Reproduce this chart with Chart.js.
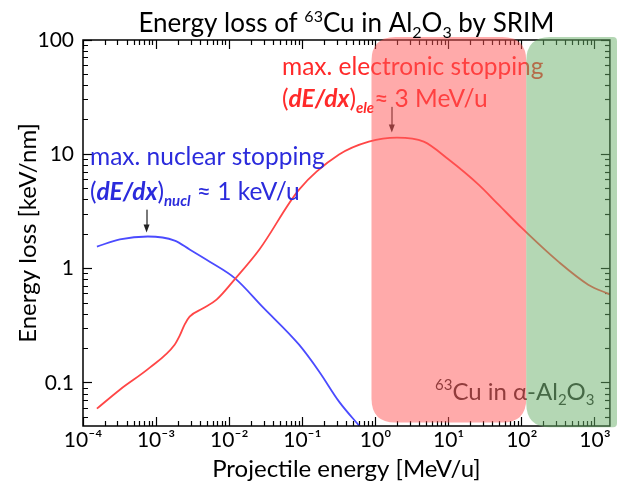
<!DOCTYPE html>
<html>
<head>
<meta charset="utf-8">
<script src="https://cdn.jsdelivr.net/npm/chart.js@4.4.1/dist/chart.umd.min.js"></script>
<style>
  html, body { margin: 0; padding: 0; background: #fff; }
</style>
</head>
<body>
<canvas id="chart" width="622" height="489"></canvas>
<script>
const FONT = 'Lato, "Open Sans", sans-serif';

// Electronic stopping (red), energy in MeV/u, loss in keV/nm
const elecEnergy = [1.55e-4, 3.19e-4, 8.18e-4, 1.79e-3, 2.10e-3, 2.45e-3, 2.87e-3, 4.32e-3, 6.70e-3, 0.0121, 0.0258, 0.090, 0.317, 0.81, 1.96, 4.56, 10, 25.6, 48, 98.9, 316, 808, 1610];
const elecLoss = [0.0596, 0.0873, 0.136, 0.216, 0.259, 0.324, 0.38, 0.447, 0.535, 0.818, 1.47, 4.91, 9.94, 12.9, 14.0, 12.9, 9.0, 5.43, 3.63, 2.28, 1.15, 0.724, 0.593];

// Nuclear stopping (blue)
const nuclEnergy = [1.55e-4, 3.19e-4, 7.7e-4, 1.79e-3, 2.87e-3, 5.4e-3, 0.0121, 0.0283, 0.090, 0.169, 0.317, 0.63];
const nuclLoss = [1.56, 1.80, 1.91, 1.76, 1.47, 1.15, 0.818, 0.465, 0.216, 0.126, 0.0686, 0.0406];

// axis ranges and labelled ticks
const xRange = [1e-4, 1600];
const yRange = [0.042, 100];
const xTickValues = [1e-4, 1e-3, 1e-2, 1e-1, 1, 10, 100, 1000];
const xTickLabels = ['10⁻⁴', '10⁻³', '10⁻²', '10⁻¹', '10⁰', '10¹', '10²', '10³'];
const yTickValues = [0.1, 1, 10, 100];
const yTickLabels = ['0.1', '1', '10', '100'];

// shaded regimes: energy span and loss span
const regionEnergy = [[0.88, 115], [115, 2000]];
const regionLoss = [[0.045, 106], [0.041, 106]];

// all decade + minor tick positions inside a range
function logTicks(min, max) {
  const out = [];
  for (let d = Math.floor(Math.log10(min)); d <= Math.ceil(Math.log10(max)); d++) {
    for (let m = 1; m < 10; m++) {
      const v = Number((m * Math.pow(10, d)).toPrecision(12));
      if (v >= min * 0.999999 && v <= max * 1.000001) out.push(v);
    }
  }
  return out;
}
const xMinor = logTicks(xRange[0], xRange[1]);
const yMinor = logTicks(yRange[0], yRange[1]);
const isDecade = v => Math.abs(Math.log10(v) - Math.round(Math.log10(v))) < 1e-9;
const labelFor = (values, labels) => v => {
  const i = values.findIndex(t => Math.abs(Math.log10(t) - Math.log10(v)) < 1e-9);
  return i < 0 ? '' : labels[i];
};

// inward tick marks: negative tick length, minor ones cut short with a dash
// (ticks drawn from the axis outwards use [5, 100], those drawn towards the axis use [0, 4, 5, 100])
const tickGrid = fromAxis => ({
  display: true,
  drawOnChartArea: false,
  drawTicks: true,
  tickLength: -9,
  tickWidth: 1.2,
  tickColor: '#000',
  tickBorderDash: c => (c.tick && isDecade(c.tick.value)) ? [] : (fromAxis ? [5, 100] : [0, 4, 5, 100])
});

// draw text made of pieces (sub/superscripts, bold italic)
function drawRich(ctx, parts, x0, y0, color, align) {
  const set = p => { ctx.font = (p.style || '') + ' ' + p.size + 'px ' + FONT; };
  let w = 0;
  parts.forEach(p => { set(p); w += ctx.measureText(p.t).width; });
  let cx = align === 'center' ? x0 - w / 2 : x0;
  ctx.fillStyle = color;
  ctx.textAlign = 'left';
  ctx.textBaseline = 'alphabetic';
  parts.forEach(p => {
    set(p);
    ctx.fillText(p.t, cx, y0 + (p.dy || 0));
    cx += ctx.measureText(p.t).width;
  });
}

function roundBox(ctx, l, t, w, h, r) {
  ctx.beginPath();
  ctx.moveTo(l + r.tl, t);
  ctx.lineTo(l + w - r.tr, t);
  ctx.quadraticCurveTo(l + w, t, l + w, t + r.tr);
  ctx.lineTo(l + w, t + h - r.br);
  ctx.quadraticCurveTo(l + w, t + h, l + w - r.br, t + h);
  ctx.lineTo(l + r.bl, t + h);
  ctx.quadraticCurveTo(l, t + h, l, t + h - r.bl);
  ctx.lineTo(l, t + r.tl);
  ctx.quadraticCurveTo(l, t, l + r.tl, t);
  ctx.closePath();
}

function arrow(ctx, px, y0, y1) {
  ctx.fillStyle = '#222';
  ctx.fillRect(Math.round(px) - 0.6, y0, 1.2, y1 - y0 - 6);
  ctx.beginPath();
  ctx.moveTo(px, y1);
  ctx.lineTo(px - 3, y1 - 8);
  ctx.lineTo(px + 3, y1 - 8);
  ctx.closePath();
  ctx.fill();
}

// texts, arrows and the box frame
const notes = {
  id: 'notes',
  afterDraw(chart) {
    const { ctx, chartArea: a, scales: { x, y } } = chart;
    ctx.save();
    const red = '#ff2a2a', blue = '#2b2bdc';
    drawRich(ctx, [{ t: 'max. electronic stopping', size: 24.5 }], 282, 75, red);
    drawRich(ctx, [
      { t: '(', size: 24.5 },
      { t: 'dE/dx', size: 24.5, style: 'italic bold' },
      { t: ')', size: 24.5 },
      { t: 'ele', size: 15, style: 'italic bold', dy: 6 },
      { t: '≈ 3 MeV/u', size: 24.5 }
    ], 282, 107, red);
    drawRich(ctx, [{ t: 'max. nuclear stopping', size: 24.5 }], 90, 165, blue);
    drawRich(ctx, [
      { t: '(', size: 24.5 },
      { t: 'dE/dx', size: 24.5, style: 'italic bold' },
      { t: ')', size: 24.5 },
      { t: 'nucl', size: 15, style: 'italic bold', dy: 6 },
      { t: ' ≈ 1 keV/u', size: 24.5 }
    ], 90, 200, blue);
    drawRich(ctx, [
      { t: '63', size: 15, dy: -10 },
      { t: 'Cu in α-Al', size: 24 },
      { t: '2', size: 15, dy: 5 },
      { t: 'O', size: 24 },
      { t: '3', size: 15, dy: 5 }
    ], 435, 400, '#222');
    arrow(ctx, x.getPixelForValue(1.67), y.getPixelForValue(26), y.getPixelForValue(15.5));
    arrow(ctx, x.getPixelForValue(7.4e-4), y.getPixelForValue(3.28), y.getPixelForValue(2.07));

    ctx.strokeStyle = '#000';
    ctx.lineWidth = 1.5;
    ctx.strokeRect(a.left, a.top, a.right - a.left, a.bottom - a.top);
    ctx.restore();
  }
};

// shaded regimes laid over everything as a translucent film, then the title
const regimes = {
  id: 'regimes',
  afterDraw(chart) {
    const { ctx, chartArea: a, scales: { x, y } } = chart;
    ctx.save();
    const fills = ['rgba(255,85,85,0.5)', 'rgba(105,175,105,0.5)'];
    const radii = [{ tl: 24, tr: 24, br: 24, bl: 24 }, { tl: 24, tr: 4, br: 4, bl: 24 }];
    regionEnergy.forEach(([e0, e1], i) => {
      const [s0, s1] = regionLoss[i];
      const l = x.getPixelForValue(e0), r = x.getPixelForValue(e1);
      const t = y.getPixelForValue(s1), b = y.getPixelForValue(s0);
      roundBox(ctx, l, t, r - l, b - t, radii[i]);
      ctx.fillStyle = fills[i];
      ctx.fill();
    });
    drawRich(ctx, [
      { t: 'Energy loss of ', size: 26 },
      { t: '63', size: 16, dy: -10 },
      { t: 'Cu in Al', size: 26 },
      { t: '2', size: 16, dy: 6 },
      { t: 'O', size: 26 },
      { t: '3', size: 16, dy: 6 },
      { t: ' by SRIM', size: 26 }
    ], (a.left + a.right) / 2, 32, '#000', 'center');
    ctx.restore();
  }
};

Chart.defaults.font.family = FONT;

new Chart(document.getElementById('chart'), {
  type: 'line',
  data: {
    datasets: [
      {
        label: 'electronic',
        data: elecEnergy.map((e, i) => ({ x: e, y: elecLoss[i] })),
        borderColor: '#ff4646',
        borderWidth: 1.8,
        pointRadius: 0,
        cubicInterpolationMode: 'monotone'
      },
      {
        label: 'nuclear',
        data: nuclEnergy.map((e, i) => ({ x: e, y: nuclLoss[i] })),
        borderColor: '#4b4bff',
        borderWidth: 1.8,
        pointRadius: 0,
        cubicInterpolationMode: 'monotone'
      }
    ]
  },
  options: {
    responsive: false,
    animation: false,
    devicePixelRatio: 1,
    layout: { padding: 0 },
    plugins: {
      legend: { display: false },
      tooltip: { enabled: false },
      title: { display: false }
    },
    scales: {
      x: {
        type: 'logarithmic',
        position: 'bottom',
        min: xRange[0],
        max: xRange[1],
        grid: tickGrid(true),
        border: { display: false },
        afterBuildTicks: s => { s.ticks = xMinor.map(v => ({ value: v })); },
        afterFit: s => { s.height = 63; },
        ticks: {
          autoSkip: false,
          maxRotation: 0,
          minRotation: 0,
          padding: 11,
          color: '#000',
          font: { size: 21 },
          callback: labelFor(xTickValues, xTickLabels)
        },
        title: {
          display: true,
          text: 'Projectile energy [MeV/u]',
          color: '#000',
          font: { size: 24 },
          padding: { top: 0, bottom: 5 }
        }
      },
      xTop: {
        type: 'logarithmic',
        position: 'top',
        min: xRange[0],
        max: xRange[1],
        grid: tickGrid(false),
        border: { display: false },
        afterBuildTicks: s => { s.ticks = xMinor.map(v => ({ value: v })); },
        afterFit: s => { s.height = 40; },
        ticks: { display: false, autoSkip: false }
      },
      y: {
        type: 'logarithmic',
        position: 'left',
        min: yRange[0],
        max: yRange[1],
        grid: tickGrid(false),
        border: { display: false },
        afterBuildTicks: s => { s.ticks = yMinor.map(v => ({ value: v })); },
        afterFit: s => { s.width = 83; },
        ticks: {
          autoSkip: false,
          padding: 18,
          color: '#000',
          font: { size: 21 },
          callback: labelFor(yTickValues, yTickLabels)
        },
        title: {
          display: true,
          text: 'Energy loss [keV/nm]',
          color: '#000',
          font: { size: 24 },
          padding: { top: 14, bottom: 0 }
        }
      },
      yRight: {
        type: 'logarithmic',
        position: 'right',
        min: yRange[0],
        max: yRange[1],
        grid: tickGrid(true),
        border: { display: false },
        afterBuildTicks: s => { s.ticks = yMinor.map(v => ({ value: v })); },
        afterFit: s => { s.width = 10; },
        ticks: { display: false, autoSkip: false }
      }
    }
  },
  plugins: [notes, regimes]
});
</script>
</body>
</html>
